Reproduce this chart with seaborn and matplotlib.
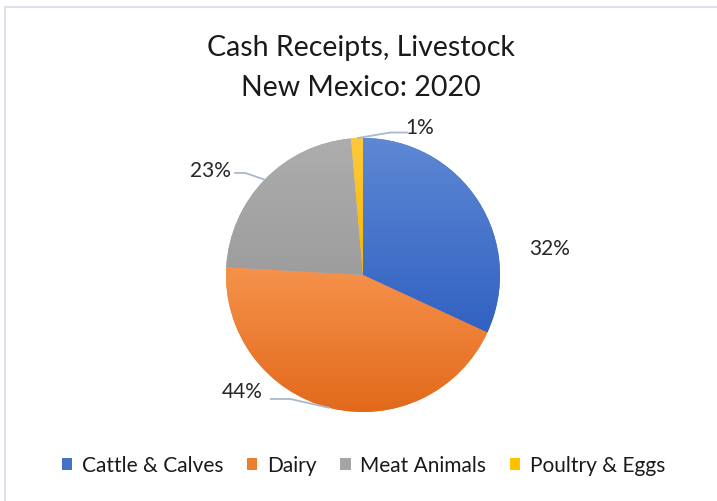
import numpy as np
import matplotlib
matplotlib.use("Agg")
import matplotlib.pyplot as plt
import seaborn as sns
from matplotlib.patches import Patch, Rectangle
from matplotlib.colors import LinearSegmentedColormap

# ---- data ----
categories = ["Cattle & Calves", "Dairy", "Meat Animals", "Poultry & Eggs"]
values = [31.9, 44.0, 22.7, 1.4]
pct_labels = ["32%", "44%", "23%", "1%"]
title_lines = ["Cash Receipts, Livestock", "New Mexico: 2020"]

# ---- style ----
light_cols = ["#5e88d4", "#f6924c", "#adadad", "#ffc93c"]
dark_cols = ["#3162c2", "#e2691a", "#9d9d9d", "#f5b700"]
mid_cols = ["#4472c4", "#ed7d31", "#a5a5a5", "#ffc000"]
line_col = "#a9b8cc"

sns.set_theme(style="white")
plt.rcParams["font.family"] = ["Lato", "DejaVu Sans"]

W, H = 717, 502
fig = plt.figure(figsize=(W / 100, H / 100), dpi=100)
cx, cy, R = 363, 276, 137
ax = fig.add_axes([(cx - R) / W, (H - cy - R) / H, 2 * R / W, 2 * R / H])

wedges, _ = ax.pie(values, colors=mid_cols, startangle=90, counterclock=False,
                   radius=1, wedgeprops=dict(linewidth=0))
ax.set_aspect("equal")
ax.axis("off")

# gradient fills clipped to each wedge
for w, lc, dc in zip(wedges, light_cols, dark_cols):
    path = w.get_path().transformed(w.get_patch_transform())
    ext = path.get_extents()
    cmap = LinearSegmentedColormap.from_list("g", [dc, lc])
    grad = np.linspace(0, 1, 256).reshape(-1, 1)
    im = ax.imshow(grad, cmap=cmap, origin="lower", aspect="auto",
                   extent=(ext.x0, ext.x1, ext.y0, ext.y1), zorder=w.get_zorder() + 0.1)
    im.set_clip_path(w)
ax.set_xlim(-1, 1)
ax.set_ylim(-1, 1)

# label placement (data coords of text centre) and leader lines
mids = [np.deg2rad((w.theta1 + w.theta2) / 2) for w in wedges]
text_pos = [(1.36, 0.20), (-0.88, -0.85), (-1.11, 0.77), (0.41, 1.08)]
elbows = [None, (-0.53, -0.905), (-0.86, 0.745), (0.20, 1.04)]
line_ends = [None, (-0.68, -0.905), (-0.94, 0.745), (0.33, 1.04)]
for lab, tp, m, el, le in zip(pct_labels, text_pos, mids, elbows, line_ends):
    ax.text(tp[0], tp[1], lab, ha="center", va="center", fontsize=15, color="#262626",
            clip_on=False)
    if el is not None:
        p = (np.cos(m), np.sin(m))
        ax.plot([p[0], el[0], le[0]], [p[1], el[1], le[1]], color=line_col, lw=1.3,
                clip_on=False, zorder=5, solid_capstyle="butt")

# title
fig.text(0.503, 1 - 48 / H, title_lines[0], ha="center", va="center", fontsize=20.5, color="#1a1a1a")
fig.text(0.503, 1 - 88 / H, title_lines[1], ha="center", va="center", fontsize=20.5, color="#1a1a1a")

# legend
handles = [Patch(facecolor=c, edgecolor="none") for c in mid_cols]
fig.legend(handles, categories, loc="center", bbox_to_anchor=(0.507, 1 - 466 / H), ncol=4,
           frameon=False, fontsize=15, handlelength=0.5, handleheight=0.5,
           handletextpad=0.45, columnspacing=1.15, labelcolor="#1a1a1a")

# outer border
fig.patches.append(Rectangle((5 / W, -0.01), 1.0, 1 - 8 / H + 0.01, transform=fig.transFigure,
                             fill=False, edgecolor="#e0e0ee", linewidth=1.5))

fig.savefig("out.png", dpi=100)
